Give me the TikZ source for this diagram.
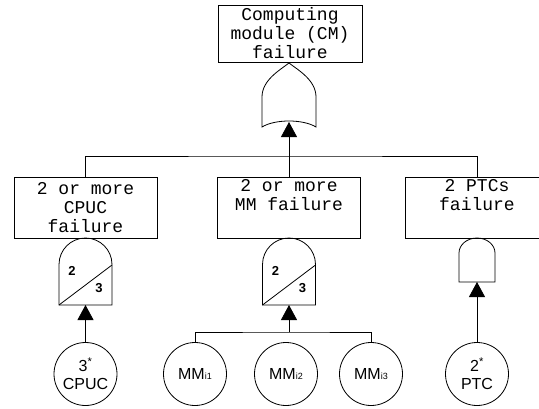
\documentclass[tikz,border=0pt]{standalone}
\usepackage{fontspec}
\setmainfont{Liberation Sans}
\newfontfamily\boxfont{Liberation Mono}
\usetikzlibrary{arrows.meta}
\begin{document}
\begin{tikzpicture}[x=1pt,y=-1pt,line width=0.8pt,
  evbox/.style={draw,minimum width=143pt,minimum height=61pt,inner sep=0pt,
    align=center,font=\boxfont\fontsize{18}{19}\selectfont},
  basic/.style={draw,circle,minimum size=63pt,inner sep=0pt,align=center,
    font=\fontsize{16}{18}\selectfont},
  feed/.style={-{Triangle[width=16pt,length=15pt]}},
  votenum/.style={inner sep=0pt,font=\bfseries\fontsize{13}{13}\selectfont},
  votegate/.pic={
    \draw (-26.5,67) -- (-26.5,26.5) arc[start angle=180,end angle=0,radius=26.5pt]
      -- (26.5,67) -- cycle;
    \draw (-26.5,67) -- (26.5,27);
    \node[votenum] at (-13.5,33) {2};
    \node[votenum] at (13.5,50) {3};
  }]
\clip (0,0) rectangle (539,408);

% top event and OR gate
\node[evbox,minimum width=144pt,minimum height=57pt] (top) at (290,33.5)
  {Computing\\module (CM)\\failure};
\draw (289,63) .. controls (280,70) and (262,80) .. (262,97) -- (262,127)
  .. controls (275,119) and (303,119) .. (316,127) -- (316,97)
  .. controls (316,80) and (298,70) .. (289,63);
\coordinate (orin) at (289,122);
\coordinate (bus) at (289,156);
\draw[feed] (bus) -- (orin);

% intermediate events
\node[evbox] (cpucf) at (85.5,207.5) {2 or more\\CPUC\\failure};
\node[evbox] (mmf) at (289,207.5) {2 or more\\MM failure\\\strut};
\node[evbox] (ptcf) at (477,207.5) {2 PTCs\\failure\\\strut};
\draw (cpucf.north) |- (bus) -| (ptcf.north);
\draw (bus) -- (mmf.north);

% 2-out-of-3 voting gates
\pic at (85.5,238) {votegate};
\coordinate (cpucin) at (85.5,305);
\pic at (289,238) {votegate};
\coordinate (mmin) at (289,305);

% AND gate
\draw (459,282) -- (459,253) arc[start angle=180,end angle=0,x radius=18pt,y radius=15pt]
  -- (495,282) -- cycle;
\coordinate (ptcin) at (477,282);

% basic events
\node[basic] (cpuc) at (85.5,374) {3\textsuperscript{*}\\CPUC};
\node[basic] (mm1) at (195,374) {MM{\fontsize{9}{9}\selectfont i1}};
\node[basic] (mm2) at (286,374) {MM{\fontsize{9}{9}\selectfont i2}};
\node[basic] (mm3) at (371,374) {MM{\fontsize{9}{9}\selectfont i3}};
\node[basic] (ptc) at (477,374) {2\textsuperscript{*}\\PTC};

\draw[feed] (cpuc.north) -- (cpucin);
\coordinate (mmbus) at (289,332);
\draw (mm1.north) |- (mmbus) -| (mm3.north);
\draw[feed] (mmbus) -- (mmin);
\draw[feed] (ptc.north) -- (ptcin);
\end{tikzpicture}
\end{document}
